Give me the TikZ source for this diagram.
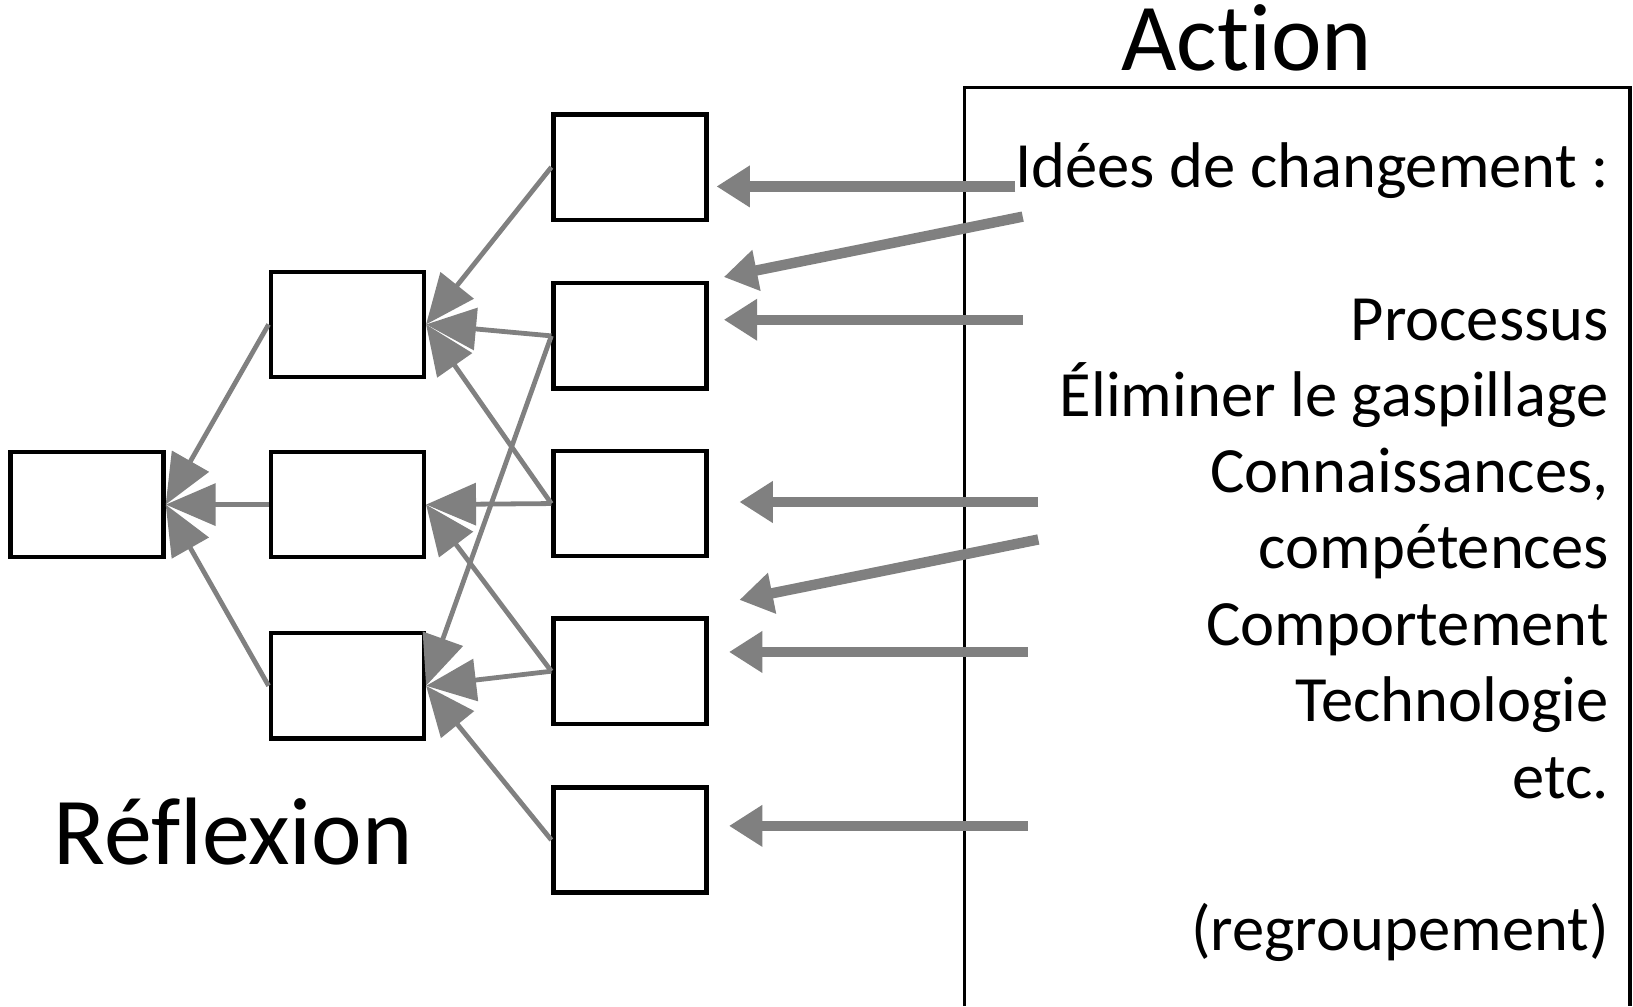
\documentclass[tikz,border=0pt]{standalone}
\usepackage{fontspec}
\setmainfont{Carlito}[Ligatures=NoCommon,RawFeature={-clig;-calt;-dlig}]
\usetikzlibrary{arrows.meta}
\definecolor{arrgray}{RGB}{128,128,128}
\begin{document}
\begin{tikzpicture}[x=0.5pt,y=-0.5pt,
  box/.style={draw=black,line width=2.1pt,minimum width=73.5pt,minimum height=50.5pt,inner sep=0pt,fill=white},
  thin/.style={draw=arrgray,line width=2.3pt,-{Triangle[length=24pt,width=20pt]}},
  thick/.style={draw=arrgray,line width=5pt,-{Triangle[length=16pt,width=19pt]}},
  txt/.style={font=\fontsize{31}{36}\selectfont,inner sep=0pt,anchor=base east},
  big/.style={font=\fontsize{46}{52}\selectfont,inner sep=0pt,anchor=base}]
\useasboundingbox (0,0) rectangle (1568,966);
% action box
\draw[line width=1.7pt] (926,966) -- (926,84) -- (1565,84) -- (1565,966);
\node[big] (action) at (1197,68) {Act\kern0pt ion};
\node[big] (reflexion) at (224,830) {Réf\kern0pt lexion};
% boxes
\node[box] (L0) at (83.5,484.5) {};
\node[box] (A) at (333.5,311.5) {};
\node[box] (B) at (333.5,484.5) {};
\node[box] (C) at (333.5,658.5) {};
\node[box] (D1) at (605,160.5) {};
\node[box] (D2) at (605,322.5) {};
\node[box] (D3) at (605,483.5) {};
\node[box] (D4) at (605,644.5) {};
\node[box] (D5) at (605,806.5) {};
% thin arrows
\draw[thin] (A.west) -- (L0.east);
\draw[thin] (B.west) -- (L0.east);
\draw[thin] (C.west) -- (L0.east);
\draw[thin] (D1.west) -- (A.east);
\draw[thin] (D2.west) -- (A.east);
\draw[thin] (D3.west) -- (A.east);
\draw[thin] (D3.west) -- (B.east);
\draw[thin] (D2.west) -- (C.east);
\draw[thin] (D4.west) -- (B.east);
\draw[thin] (D4.west) -- (C.east);
\draw[thin] (D5.west) -- (C.east);
% thick arrows
\coordinate (s1) at (975,179); \coordinate (t1) at (688,179);
\coordinate (s2) at (982,208); \coordinate (t2) at (695,266);
\coordinate (s3) at (982,307); \coordinate (t3) at (695,307);
\coordinate (s4) at (997,482); \coordinate (t4) at (710,482);
\coordinate (s5) at (997,518); \coordinate (t5) at (710,576);
\coordinate (s6) at (987,626); \coordinate (t6) at (700,626);
\coordinate (s7) at (987,793); \coordinate (t7) at (700,793);
\foreach \i in {1,...,7} {\draw[thick] (s\i) -- (t\i);}
% text
\node[txt] (l1) at (1545,180) {Idées de changement :};
\node[txt] (l3) at (1545,327) {Processus};
\node[txt] (l4) at (1545,400) {Éliminer le gaspillage};
\node[txt] (l5) at (1545,473) {Connaissances,};
\node[txt] (l6) at (1545,546) {compétences};
\node[txt] (l7) at (1545,620) {Comportement};
\node[txt] (l8) at (1545,693) {Technologie};
\node[txt] (l9) at (1545,767) {etc.};
\node[txt] (l11) at (1545,913) {(regroupement)};
\end{tikzpicture}
\end{document}
